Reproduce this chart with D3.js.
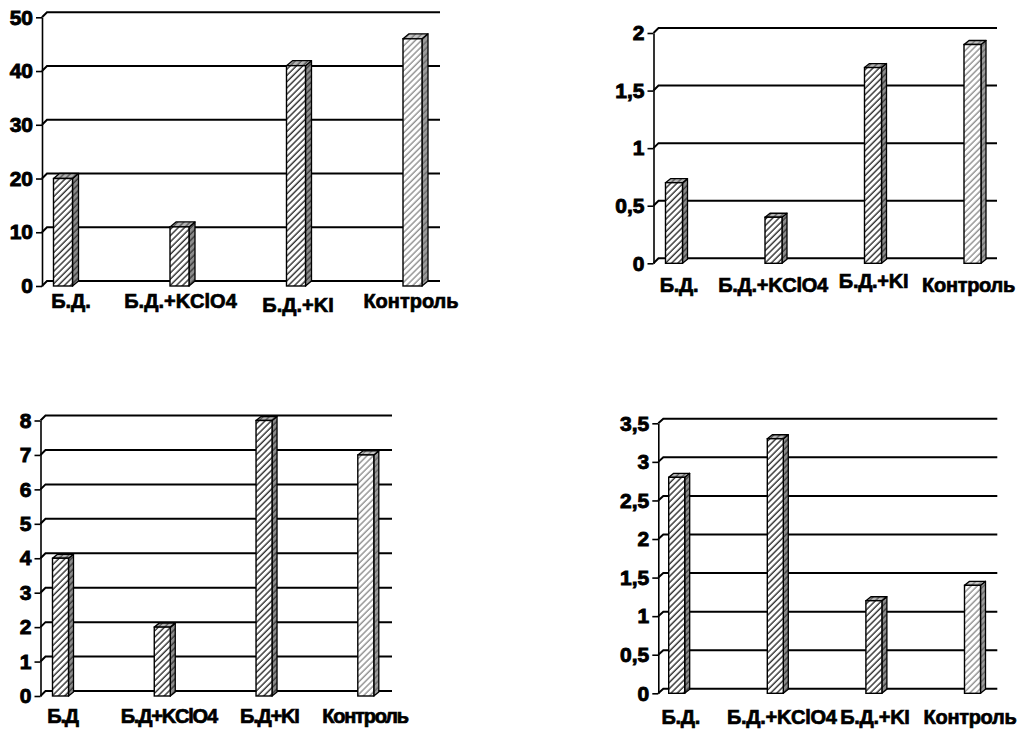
<!DOCTYPE html>
<html>
<head>
<meta charset="utf-8">
<script src="https://cdn.jsdelivr.net/npm/d3@7"></script>
<style>
  html, body { margin: 0; padding: 0; background: #fff; }
  svg { display: block; }
  text { font-family: "Liberation Sans", Arial, sans-serif; font-weight: bold; fill: #000; stroke: #000; stroke-width: 0.7px; }
  .tick text { stroke-width: 0.9px; }
</style>
</head>
<body>
<svg id="chart" width="1021" height="731"></svg>
<script>
// Categories (two spellings are used across the panels)
const categoriesA = ["Б.Д.", "Б.Д.+KClO4", "Б.Д.+KI", "Контроль"];
const categoriesB = ["Б.Д", "Б.Д+KClO4", "Б.Д+KI", "Контроль"];

// Values for each of the four panels
const valuesTopLeft = [20, 11, 41, 46];
const valuesTopRight = [0.7, 0.4, 1.7, 1.9];
const valuesBottomLeft = [4, 2, 8, 7];
const valuesBottomRight = [2.8, 3.3, 1.2, 1.4];

// Y tick values and their labels
const ticksTopLeft = [0, 10, 20, 30, 40, 50];
const tickLabelsTopLeft = ["0", "10", "20", "30", "40", "50"];
const ticksTopRight = [0, 0.5, 1, 1.5, 2];
const tickLabelsTopRight = ["0", "0,5", "1", "1,5", "2"];
const ticksBottomLeft = [0, 1, 2, 3, 4, 5, 6, 7, 8];
const tickLabelsBottomLeft = ["0", "1", "2", "3", "4", "5", "6", "7", "8"];
const ticksBottomRight = [0, 0.5, 1, 1.5, 2, 2.5, 3, 3.5];
const tickLabelsBottomRight = ["0", "0,5", "1", "1,5", "2", "2,5", "3", "3,5"];

const svg = d3.select("#chart");
const defs = svg.append("defs");

// Diagonal hatch fills for the bar faces
function hatch(id, bg, line, width) {
  const s = 4.4;
  const p = defs.append("pattern")
    .attr("id", id)
    .attr("patternUnits", "userSpaceOnUse")
    .attr("width", s).attr("height", s)
    .attr("patternTransform", "rotate(45)");
  p.append("rect").attr("width", s).attr("height", s).attr("fill", bg);
  p.append("line").attr("x1", 1).attr("y1", 0).attr("x2", 1).attr("y2", s)
    .attr("stroke", line).attr("stroke-width", width);
}
hatch("front", "#fff", "#000", 1.15);
hatch("side", "#8c8c8c", "#222", 1.1);
hatch("top", "#b4b4b4", "#333", 1.0);
hatch("frontLight", "#fff", "#777", 1.15);
hatch("sideLight", "#9c9c9c", "#555", 1.0);
hatch("topLight", "#c4c4c4", "#666", 1.0);

const panels = [
  { cats: categoriesA, values: valuesTopLeft, ticks: ticksTopLeft, tickLabels: tickLabelsTopLeft,
    left: 42, y0: 286, yTop: 17.3, gridEnd: 440, first: 63, last: 412.5, barW: 19,
    dx: 6, dy: 5, gdx: 5, gdy: 5, labelY: 307.5, labelShift: [8, 1, 2, -1.5], labelDy: [0, 0, 4, 0],
    spacing: 0 },
  { cats: categoriesA, values: valuesTopRight, ticks: ticksTopRight, tickLabels: tickLabelsTopRight,
    left: 653.5, y0: 263.3, yTop: 33, gridEnd: 997, first: 674, last: 972.5, barW: 17,
    dx: 5, dy: 4, gdx: 5, gdy: 5, labelY: 291.5, labelShift: [5, -0.5, 0.5, -4], labelDy: [0, 0, -4, 0],
    spacing: -0.3 },
  { cats: categoriesB, values: valuesBottomLeft, ticks: ticksBottomLeft, tickLabels: tickLabelsBottomLeft,
    left: 40.5, y0: 696, yTop: 420.5, gridEnd: 392, first: 60.5, last: 365.8, barW: 16,
    dx: 5, dy: 4, gdx: 5, gdy: 5, labelY: 722.5, labelShift: [2, 6.5, 5.3, -0.8], labelDy: [0, 0, 0, 0],
    spacing: -1.2 },
  { cats: categoriesA, values: valuesBottomRight, ticks: ticksBottomRight, tickLabels: tickLabelsBottomRight,
    left: 658.3, y0: 693.3, yTop: 423.3, gridEnd: 997.3, first: 676.7, last: 972.5, barW: 16,
    dx: 5, dy: 4, gdx: 5, gdy: 4.5, labelY: 724, labelShift: [4, 6.5, 1, -2.5], labelDy: [0, 0, 0, 0],
    spacing: -0.3 }
];

panels.forEach(p => {
  const g = svg.append("g");
  const maxV = p.ticks[p.ticks.length - 1];
  const y = d3.scaleLinear().domain([0, maxV]).range([p.y0, p.yTop]);
  const x = d3.scalePoint().domain(p.cats).range([p.first, p.last]);

  // Back-wall gridlines with their short side-wall connectors
  const grid = g.append("g");
  p.ticks.forEach(t => {
    const yf = y(t);
    grid.append("path")
      .attr("d", `M${p.left},${yf} L${p.left + p.gdx},${yf - p.gdy} L${p.gridEnd},${yf - p.gdy}`)
      .attr("fill", "none").attr("stroke", "#000").attr("stroke-width", 2);
  });

  // Left value axis
  const axis = d3.axisLeft(y)
    .tickValues(p.ticks)
    .tickFormat((d, i) => p.tickLabels[i])
    .tickSize(6).tickSizeOuter(0).tickPadding(3);
  const ax = g.append("g").attr("transform", `translate(${p.left},0)`).call(axis);
  ax.attr("font-size", null).attr("font-family", null);
  ax.select(".domain").attr("stroke", "#000").attr("stroke-width", 1.6);
  ax.selectAll(".tick line").attr("stroke", "#000").attr("stroke-width", 1.6);
  ax.selectAll(".tick text")
    .style("font-size", "21px")
    .style("font-weight", "bold")
    .style("fill", "#000");

  // 3D columns
  const bars = g.append("g");
  p.cats.forEach((c, i) => {
    const v = p.values[i];
    const light = i === p.cats.length - 1;
    const x0 = x(c) - p.barW / 2, x1 = x0 + p.barW;
    const yt = y(v), yb = y(0);
    const b = bars.append("g");
    b.append("path")
      .attr("d", `M${x1},${yt} L${x1 + p.dx},${yt - p.dy} L${x1 + p.dx},${yb - p.dy} L${x1},${yb} Z`)
      .attr("fill", `url(#${light ? "sideLight" : "side"})`)
      .attr("stroke", "#000").attr("stroke-width", 1.3).attr("stroke-linejoin", "round");
    b.append("path")
      .attr("d", `M${x0},${yt} L${x0 + p.dx},${yt - p.dy} L${x1 + p.dx},${yt - p.dy} L${x1},${yt} Z`)
      .attr("fill", `url(#${light ? "topLight" : "top"})`)
      .attr("stroke", "#000").attr("stroke-width", 1.3).attr("stroke-linejoin", "round");
    b.append("rect")
      .attr("x", x0).attr("y", yt).attr("width", p.barW).attr("height", yb - yt)
      .attr("fill", `url(#${light ? "frontLight" : "front"})`)
      .attr("stroke", "#000").attr("stroke-width", 1.4);
  });

  // Category labels
  g.append("g").selectAll("text").data(p.cats).join("text")
    .attr("x", (c, i) => x(c) + p.labelShift[i])
    .attr("y", (c, i) => p.labelY + p.labelDy[i])
    .attr("text-anchor", "middle")
    .style("font-size", "20px")
    .attr("letter-spacing", p.spacing)
    .text(c => c);
});
</script>
</body>
</html>
